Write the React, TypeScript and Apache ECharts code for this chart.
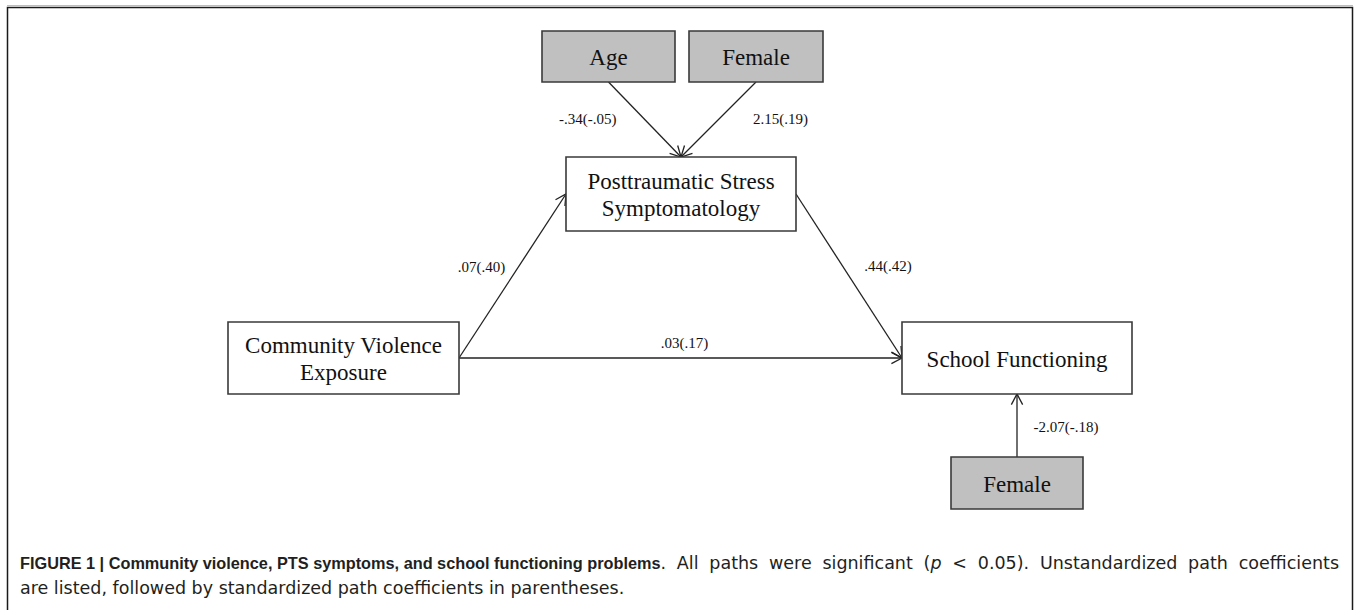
import React, { useEffect, useRef } from "react";
import * as echarts from "echarts";

// ---- data ----
const nodeNames = [
  "Age",
  "Female",
  "Posttraumatic Stress\nSymptomatology",
  "Community Violence\nExposure",
  "School Functioning",
  "Female",
];
const nodeIsCovariate = [true, true, false, false, false, true];
const edgeFrom = [0, 1, 3, 2, 3, 5];
const edgeTo = [2, 2, 2, 4, 4, 4];
const unstandardized = ["-.34", "2.15", ".07", ".44", ".03", "-2.07"];
const standardized = ["-.05", ".19", ".40", ".42", ".17", "-.18"];
const captionBold = "FIGURE 1 | Community violence, PTS symptoms, and school functioning problems";
const captionRest1a = ". All paths were significant (";
const captionItalic = "p";
const captionRest1b = " < 0.05). Unstandardized path coefficients";
const captionLine2 = "are listed, followed by standardized path coefficients in parentheses.";

// ---- layout (pixel space) ----
const nodeBoxes = [
  [542, 31, 133, 51],
  [689, 31, 134, 51],
  [566, 157, 230, 74],
  [228, 322, 231, 72],
  [902, 322, 230, 72],
  [951, 457, 132, 52],
];
const edgeAnchors = [
  ["bottom", "top"],
  ["bottom", "top"],
  ["right", "left"],
  ["right", "left"],
  ["right", "left"],
  ["top", "bottom"],
];
const labelOffsets = [
  [-57, -1],
  [62, -1],
  [-31, -9],
  [39, -10],
  [4, -15],
  [49, 1],
];
const CAPTION_LEFT = 20;
const CAPTION_RIGHT = 1339;

function anchor(box: number[], side: string): number[] {
  const [x, y, w, h] = box;
  if (side === "top") return [x + w / 2, y];
  if (side === "bottom") return [x + w / 2, y + h];
  if (side === "left") return [x, y + h / 2];
  return [x + w, y + h / 2];
}

const SERIF = '"Liberation Serif", "Times New Roman", serif';
const SANS = '"Liberation Sans", Arial, sans-serif';
const SANS_WIDE = '"DejaVu Sans", "Liberation Sans", sans-serif';
const CAP_FILL = "#231f20";
const BOLD_SIZE = 16.3;
const REG_SIZE = 17.5;

const capFonts: Record<string, string> = {
  b: `bold ${BOLD_SIZE}px ${SANS}`,
  r: `${REG_SIZE}px ${SANS_WIDE}`,
  i: `italic ${REG_SIZE}px ${SANS_WIDE}`,
};
const capRich: any = {
  b: { fontFamily: SANS, fontSize: BOLD_SIZE, fontWeight: "bold", fill: CAP_FILL },
  r: { fontFamily: SANS_WIDE, fontSize: REG_SIZE, fill: CAP_FILL },
  i: { fontFamily: SANS_WIDE, fontSize: REG_SIZE, fontStyle: "italic", fill: CAP_FILL },
};

// split styled segments into words (each word = list of [text, style])
function toWords(segments: [string, string][]): [string, string][][] {
  const words: [string, string][][] = [];
  let cur: [string, string][] = [];
  segments.forEach(([txt, st]) => {
    const parts = txt.split(" ");
    parts.forEach((p, k) => {
      if (k > 0) {
        if (cur.length) words.push(cur);
        cur = [];
      }
      if (p.length) cur.push([p, st]);
    });
  });
  if (cur.length) words.push(cur);
  return words;
}

export default function App() {
  const ref = useRef<HTMLDivElement>(null);
  useEffect(() => {
    if (!ref.current) return;
    const chart = echarts.init(ref.current, null, { renderer: "svg" });

    // caption line 1: bold title at natural width, remaining words justified to the right edge
    const ctx = document.createElement("canvas").getContext("2d")!;
    const measure = (w: [string, string][]) =>
      w.reduce((s, [t, st]) => {
        ctx.font = capFonts[st];
        return s + ctx.measureText(t).width;
      }, 0);
    const rest = toWords([
      [captionRest1a, "r"],
      [captionItalic, "i"],
      [captionRest1b, "r"],
    ]);
    const head: [string, string][] = [[captionBold, "b"], ...rest[0]];
    const tail = rest.slice(1);
    const headW = measure(head);
    const tailW = tail.map(measure);
    const startTail = CAPTION_LEFT + headW;
    const gap = (CAPTION_RIGHT - startTail - tailW.reduce((a, b) => a + b, 0)) / tail.length;
    const captionWords: any[] = [
      {
        type: "text",
        x: CAPTION_LEFT,
        y: 563,
        silent: true,
        style: {
          text: head.map(([t, st]) => `{${st}|${t}}`).join(""),
          verticalAlign: "middle",
          rich: capRich,
        },
      },
    ];
    let xpos = startTail + gap;
    tail.forEach((w, k) => {
      captionWords.push({
        type: "text",
        x: xpos,
        y: 563,
        silent: true,
        style: {
          text: w.map(([t, st]) => `{${st}|${t}}`).join(""),
          verticalAlign: "middle",
          rich: capRich,
        },
      });
      xpos += tailW[k] + gap;
    });

    const nodeSeries: any = {
      type: "custom",
      coordinateSystem: "cartesian2d",
      clip: false,
      data: nodeNames.map((_, i) => [i]),
      renderItem: (params: any, api: any) => {
        const i = params.dataIndex;
        const [x, y, w, h] = nodeBoxes[i];
        const p0 = api.coord([x, y]);
        const p1 = api.coord([x + w, y + h]);
        const cx = (p0[0] + p1[0]) / 2;
        const cy = (p0[1] + p1[1]) / 2;
        return {
          type: "group",
          children: [
            {
              type: "rect",
              shape: { x: p0[0], y: p0[1], width: p1[0] - p0[0], height: p1[1] - p0[1] },
              style: {
                fill: nodeIsCovariate[i] ? "#c0c0c0" : "#ffffff",
                stroke: "#3a3a3a",
                lineWidth: 1.6,
              },
            },
            {
              type: "text",
              style: {
                text: nodeNames[i],
                x: cx,
                y: cy + 1,
                align: "center",
                verticalAlign: "middle",
                fontFamily: SERIF,
                fontSize: 23,
                lineHeight: 27,
                fill: "#111111",
              },
            },
          ],
        };
      },
    };

    const edgeSeries: any = {
      type: "custom",
      coordinateSystem: "cartesian2d",
      clip: false,
      data: edgeFrom.map((_, i) => [i]),
      renderItem: (params: any, api: any) => {
        const i = params.dataIndex;
        const a = anchor(nodeBoxes[edgeFrom[i]], edgeAnchors[i][0]);
        const b = anchor(nodeBoxes[edgeTo[i]], edgeAnchors[i][1]);
        const pa = api.coord(a);
        const pb = api.coord(b);
        const ang = Math.atan2(pb[1] - pa[1], pb[0] - pa[0]);
        const L = 12;
        const spread = (28 * Math.PI) / 180;
        const h1 = [pb[0] - L * Math.cos(ang - spread), pb[1] - L * Math.sin(ang - spread)];
        const h2 = [pb[0] - L * Math.cos(ang + spread), pb[1] - L * Math.sin(ang + spread)];
        const mx = (a[0] + b[0]) / 2 + labelOffsets[i][0];
        const my = (a[1] + b[1]) / 2 + labelOffsets[i][1];
        const pm = api.coord([mx, my]);
        return {
          type: "group",
          children: [
            {
              type: "line",
              shape: { x1: pa[0], y1: pa[1], x2: pb[0], y2: pb[1] },
              style: { stroke: "#222222", lineWidth: 1.3 },
            },
            {
              type: "polyline",
              shape: { points: [h1, pb, h2] },
              style: { stroke: "#222222", lineWidth: 1.3, fill: null },
            },
            {
              type: "text",
              style: {
                text: unstandardized[i] + "(" + standardized[i] + ")",
                x: pm[0],
                y: pm[1],
                align: "center",
                verticalAlign: "middle",
                fontFamily: SERIF,
                fontSize: 15,
                fill: "#111111",
              },
            },
          ],
        };
      },
    };

    chart.setOption({
      animation: false,
      backgroundColor: "#ffffff",
      grid: { left: 0, right: 0, top: 0, bottom: 0 },
      xAxis: { type: "value", min: 0, max: 1356, show: false },
      yAxis: { type: "value", min: 0, max: 610, inverse: true, show: false },
      series: [edgeSeries, nodeSeries],
      graphic: [
        {
          type: "line",
          shape: { x1: 7, y1: 5.5, x2: 1353, y2: 5.5 },
          style: { stroke: "#bdbdbd", lineWidth: 1 },
          silent: true,
        },
        {
          type: "rect",
          shape: { x: 7.5, y: 7.5, width: 1345, height: 700 },
          style: { fill: "none", stroke: "#1a1a1a", lineWidth: 1.5 },
          silent: true,
        },
        ...captionWords,
        {
          type: "text",
          x: CAPTION_LEFT,
          y: 588,
          silent: true,
          style: {
            text: captionLine2,
            verticalAlign: "middle",
            fontFamily: SANS_WIDE,
            fontSize: REG_SIZE,
            fill: CAP_FILL,
          },
        },
      ],
    });
    return () => chart.dispose();
  }, []);
  return (
    <div
      ref={ref}
      style={{ position: "absolute", left: 0, top: 0, width: 1356, height: 610, background: "#fff" }}
    />
  );
}
